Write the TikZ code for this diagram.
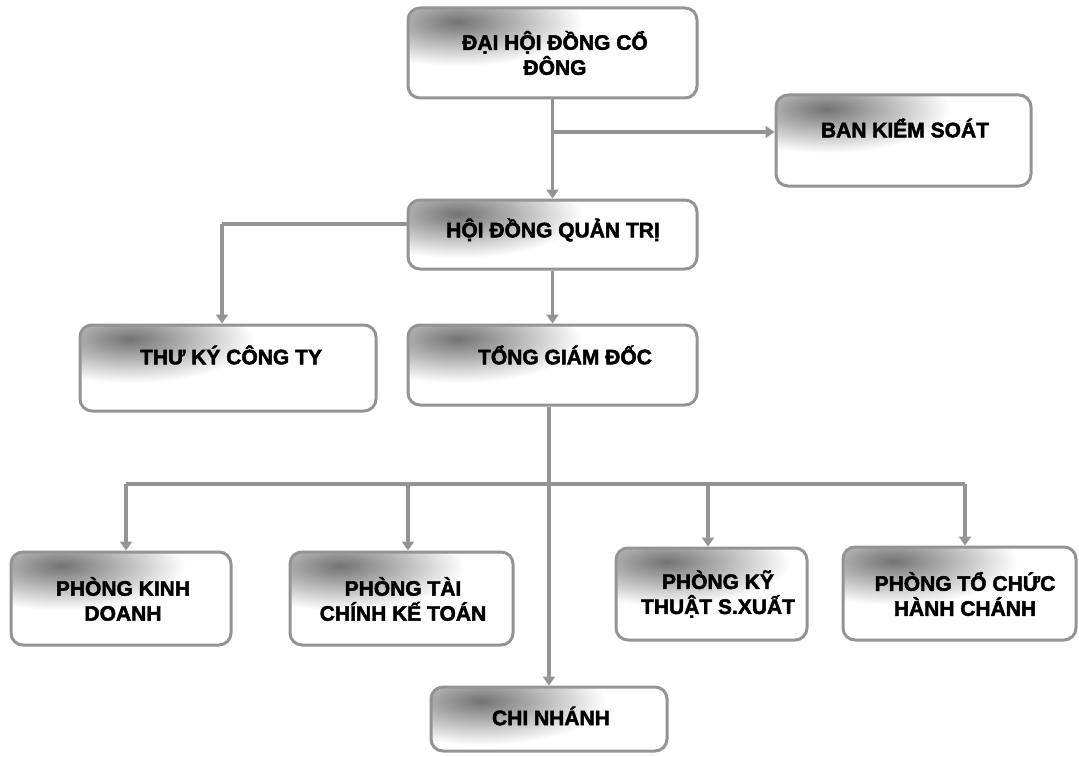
\documentclass[tikz,border=0pt]{standalone}
\usepackage{fontspec}
\setmainfont{Liberation Sans}[BoldFeatures={FakeBold=2.2}]
\usetikzlibrary{arrows.meta,calc}
\tikzset{
  orgbox/.style={draw=black!42, line width=3pt, rounded corners=12pt, inner sep=0pt},
  lbl/.style={font=\bfseries\fontsize{21}{25}\selectfont, align=center, text=black, inner sep=0pt},
  conn/.style={draw=black!42, line width=3.4pt},
  arr/.style={conn, -{Triangle[length=9pt,width=12pt]}},
}
\newcommand\obox[5]{%
  \pgfmathsetmacro\bw{#4-#2}\pgfmathsetmacro\bh{#5-#3}%
  \pgfmathsetmacro\cx{(#2+#4)/2}\pgfmathsetmacro\cy{(#3+#5)/2}%
  \begin{scope}
    \clip[rounded corners=12pt] (#2,#3) rectangle (#4,#5);
    \fill[white] (#2,#3) rectangle (#4,#5);
    \shade[inner color=black!55, outer color=white] (#2+50,#3+14) ellipse [x radius=125pt, y radius=44pt];
  \end{scope}
  \node[orgbox, minimum width=\bw pt, minimum height=\bh pt] (#1) at (\cx,\cy) {};
}
\begin{document}
\begin{tikzpicture}[x=1pt,y=-1pt]
\useasboundingbox[fill=white] (0,0) rectangle (1079,757);

% boxes
\obox{dh}{408}{8}{697}{98}
\obox{bks}{776}{95}{1031}{186}
\obox{hd}{408}{200}{697}{269}
\obox{tk}{80}{325}{376}{411}
\obox{tg}{408}{325}{697}{405}
\obox{pkd}{11}{552}{231}{645}
\obox{ptc}{290}{552}{513}{645}
\obox{pkt}{616}{548}{807}{640}
\obox{pto}{843}{547}{1076}{640}
\obox{cn}{431}{687}{667}{751}

% labels
\node[lbl] (tdh) at (555,53) {ĐẠI HỘI ĐỒNG CỔ\\ĐÔNG};
\node[lbl] (tbks) at (905,128) {BAN KIỂM SOÁT};
\node[lbl] (thd) at (553,230) {HỘI ĐỒNG QUẢN TRỊ};
\node[lbl] (ttk) at (231,355) {THƯ KÝ CÔNG TY};
\node[lbl] (ttg) at (565,355) {TỔNG GIÁM ĐỐC};
\node[lbl] (tpkd) at (123,599) {PHÒNG KINH\\DOANH};
\node[lbl] (tptc) at (403,599) {PHÒNG TÀI\\CHÍNH KẾ TOÁN};
\node[lbl] (tpkt) at (718,594) {PHÒNG KỸ\\THUẬT S.XUẤT};
\node[lbl] (tpto) at (965,594) {PHÒNG TỔ CHỨC\\HÀNH CHÁNH};
\node[lbl] (tcn) at (551,716) {CHI NHÁNH};

% connectors
\coordinate (j1) at (552,132);
\coordinate (j2) at (408,224);
\coordinate (j3) at (222,224);
\coordinate (b1) at (126,484);
\coordinate (b2) at (408,484);
\coordinate (b3) at (708,484);
\coordinate (b4) at (965,484);

\draw[arr] (dh.south) -- (dh.south |- hd.north);
\draw[arr] (j1) -- (j1 -| bks.west);
\draw[conn] (j2) -- (j3);
\draw[arr] (j3) -- (j3 |- tk.north);
\draw[arr] (hd.south) -- (hd.south |- tg.north);
\draw[arr] (cn.north |- tg.south) -- (cn.north);
\draw[conn] (b1) -- (b4);
\draw[arr] (b1) -- (b1 |- pkd.north);
\draw[arr] (b2) -- (b2 |- ptc.north);
\draw[arr] (b3) -- (b3 |- pkt.north);
\draw[arr] (b4) -- (b4 |- pto.north);
\end{tikzpicture}
\end{document}
